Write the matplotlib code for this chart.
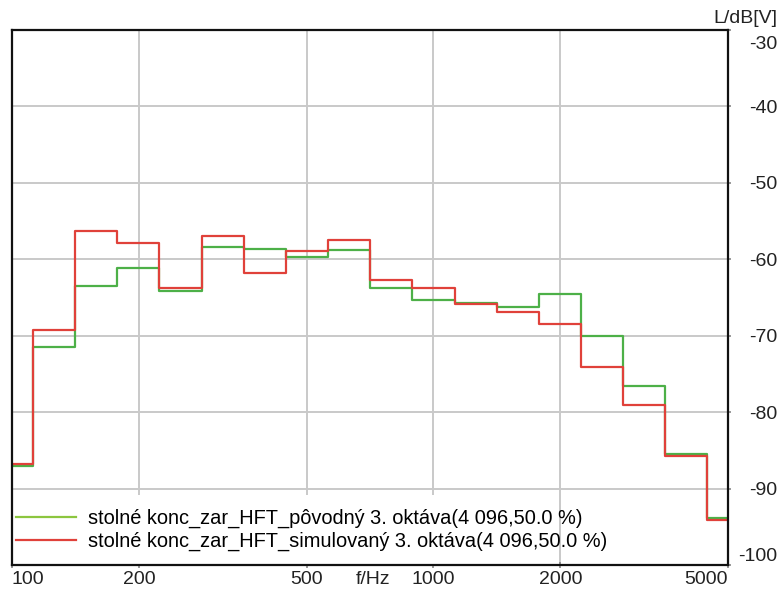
import matplotlib
matplotlib.use("Agg")
import matplotlib.pyplot as plt
from matplotlib.patches import Rectangle
from matplotlib.ticker import FixedLocator, NullLocator
from matplotlib.transforms import ScaledTranslation

plt.rcParams['font.family'] = ['Liberation Sans', 'DejaVu Sans']

# pásma tretinooktáv (nominálne stredy) a ich index voči 1 kHz
pasma = [100, 125, 160, 200, 250, 315, 400, 500, 630, 800, 1000,
         1250, 1600, 2000, 2500, 3150, 4000, 5000]
index_pasma = list(range(-10, 8))

# úrovne v dB[V] odčítané z grafu
povodny = [-87.0, -71.5, -63.5, -61.2, -64.2, -58.4, -58.6, -59.7, -58.8,
           -63.8, -65.3, -65.7, -66.3, -64.6, -70.1, -76.6, -85.5, -93.9]
simulovany = [-86.8, -69.3, -56.3, -57.9, -63.7, -57.0, -61.8, -58.9, -57.5,
              -62.7, -63.7, -65.9, -66.85, -68.5, -74.05, -79.0, -85.7, -94.1]

popis_povodny = "stolné konc_zar_HFT_pôvodný 3. oktáva(4 096,50.0 %)"
popis_simulovany = "stolné konc_zar_HFT_simulovaný 3. oktáva(4 096,50.0 %)"

x_ticks = [100, 200, 500, 1000, 2000, 5000]
y_ticks = [-30, -40, -50, -60, -70, -80, -90, -100]

# hranice pásiem
hranice = [1000 * 10 ** ((n - 0.5) / 10) for n in index_pasma]
hranice.append(1000 * 10 ** ((index_pasma[-1] + 0.5) / 10))

fig = plt.figure(figsize=(7.83, 5.95), dpi=100)
ax = fig.add_axes([0.0153, 0.0504, 0.9145, 0.8992])

ax.step(hranice, povodny + [povodny[-1]], where='post', color='#4db048',
        lw=1.6, label=popis_povodny, zorder=2)
ax.step(hranice, simulovany + [simulovany[-1]], where='post', color='#e0413a',
        lw=1.6, label=popis_simulovany, zorder=2.1)

ax.set_xscale('log')
ax.set_xlim(100, 5000)
ax.set_ylim(-100, -30)

ax.xaxis.set_major_locator(FixedLocator(x_ticks))
ax.xaxis.set_minor_locator(NullLocator())
ax.set_xticklabels([str(t) for t in x_ticks])
ax.set_yticks(y_ticks)
ax.set_yticklabels([str(t) for t in y_ticks])

ax.grid(True, color='#c9c9c9', lw=1.4)

for s in ax.spines.values():
    s.set_color('#111111')
    s.set_linewidth(1.6)

ax.yaxis.tick_right()
ax.tick_params(axis='y', direction='out', length=2.5, width=1.2, color='#888888',
               labelsize=14, labelcolor='#222222', pad=33)
ax.tick_params(axis='x', direction='inout', length=5, width=1.2, color='#888888',
               labelsize=14, labelcolor='#222222', pad=2)
for lab in ax.get_yticklabels():
    lab.set_horizontalalignment('right')
ylabs = ax.get_yticklabels()
ylabs[0].set_verticalalignment('top')
ylabs[0].set_transform(ylabs[0].get_transform()
                       + ScaledTranslation(0, -4 / 72, fig.dpi_scale_trans))
ylabs[-1].set_verticalalignment('bottom')
xlabs = ax.get_xticklabels()
xlabs[0].set_horizontalalignment('left')
xlabs[-1].set_horizontalalignment('right')

# biele pozadie legendy
ax.add_patch(Rectangle((0, 0), 0.75, 0.131, transform=ax.transAxes,
                       facecolor='white', edgecolor='none', zorder=1.6))

leg = ax.legend(loc='upper left', bbox_to_anchor=(0.006, 0.105), frameon=False,
                fontsize=14.4, handlelength=3.0, handletextpad=0.6,
                labelspacing=0.18, borderpad=0, borderaxespad=0)
leg.get_lines()[0].set_color('#8cc63f')
leg.set_zorder(3)

ax.text(0.504, -0.011, "f/Hz", transform=ax.transAxes, ha='center', va='top',
        fontsize=14, color='#222222')
fig.text(0.993, 0.983, "L/dB[V]", ha='right', va='top', fontsize=14,
         color='#222222')

fig.savefig("out.png", dpi=100)
